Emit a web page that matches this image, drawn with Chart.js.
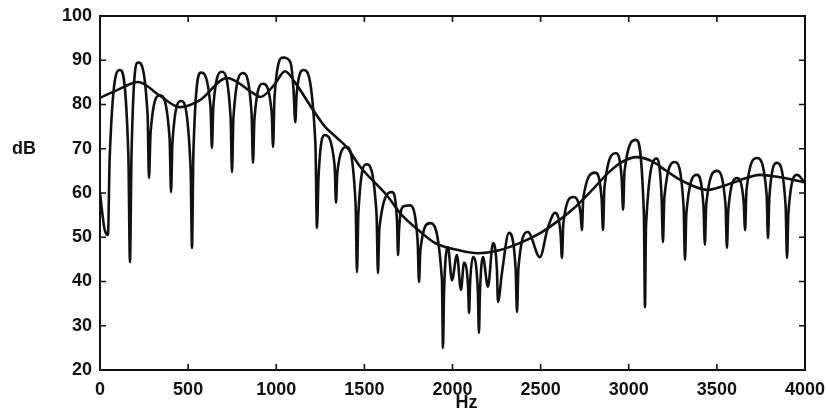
<!DOCTYPE html>
<html>
<head>
<meta charset="utf-8">
<script src="https://cdn.jsdelivr.net/npm/chart.js@4/dist/chart.umd.min.js"></script>
<style>
  html, body { margin: 0; padding: 0; background: #fff; }
  canvas { display: block; }
</style>
</head>
<body>
<canvas id="chart" width="827" height="414"></canvas>
<script>
// spectrum with comb-like notches: [Hz, dB]
const combCurve = [
  [0, 60], [25, 52], [45, 50.5], [55, 68], [113, 87.8], [161, 68.3], [170, 44.4], [179, 69.2],
  [216, 89.5], [270, 77.7], [278, 63.4], [287, 73.7], [340, 82.1], [395, 72.3], [403, 60.2], [411, 71.4],
  [460, 80.8], [514, 65.8], [522, 47.6], [530, 69.3], [573, 87.2], [627, 79.5], [635, 70.2], [643, 79.6],
  [692, 87.4], [741, 77.1], [749, 64.7], [757, 77], [811, 87.1], [860, 78], [868, 66.8], [876, 76.6],
  [925, 84.7], [974, 78.2], [982, 70.4], [990, 81.5], [1038, 90.6], [1080, 89.6], [1098, 83.4], [1108, 76],
  [1116, 82.5], [1155, 87.8], [1222, 71.4], [1231, 52.1], [1240, 63.7], [1275, 73.1], [1331, 66.3], [1339, 57.8],
  [1347, 64.8], [1398, 70.4], [1450, 57.7], [1458, 42.1], [1466, 55.4], [1512, 66.5], [1569, 55.3], [1577, 41.9],
  [1585, 52], [1657, 60.2], [1685, 53.8], [1691, 46], [1697, 51.9], [1719, 56.9], [1757, 57.2], [1802, 49.3],
  [1810, 39.9], [1818, 47.2], [1872, 53.2], [1940, 40.5], [1946, 25], [1952, 37.5], [1974, 47.8], [1997, 40.3],
  [2025, 46], [2048, 38.1], [2065, 44.2], [2088, 39.1], [2094, 32.9], [2100, 39.8], [2116, 45.5], [2144, 37.8],
  [2150, 28.4], [2156, 37.8], [2173, 45.5], [2201, 38.8], [2230, 48.7], [2252, 42.7], [2258, 35.4], [2281, 42.1],
  [2320, 51], [2358, 43], [2366, 33.1], [2374, 43], [2428, 51.2], [2496, 45.5], [2540, 52], [2582, 55.5],
  [2613, 50.9], [2621, 45.3], [2629, 53.2], [2684, 59.1], [2726, 55.7], [2734, 51.6], [2742, 58.8], [2809, 64.6],
  [2846, 58.8], [2854, 51.6], [2862, 61.2], [2928, 69], [2960, 63.2], [2968, 56.2], [2976, 64.9], [3041, 72],
  [3086, 55], [3092, 34.2], [3098, 52.7], [3160, 67.8], [3186, 59.4], [3194, 48.9], [3202, 58.9], [3262, 67],
  [3311, 57.1], [3319, 44.9], [3327, 55.5], [3387, 64.1], [3424, 57], [3432, 48.3], [3440, 57.6], [3500, 65],
  [3549, 57.3], [3557, 47.6], [3565, 56.3], [3614, 63.4], [3652, 58.1], [3660, 51.6], [3668, 60.6], [3728, 67.9],
  [3782, 59.8], [3790, 49.8], [3798, 59.2], [3841, 66.8], [3890, 57.1], [3898, 45.3], [3906, 55.6], [3955, 64.1],
  [4000, 62.3]
];

// smooth envelope: [Hz, dB]
const envelopeCurve = [
  [0, 81.5], [100, 83.3], [216, 85.1], [340, 82], [454, 79.4], [567, 81], [720, 86], [868, 82.6],
  [910, 81.7], [990, 84.5], [1050, 87.5], [1106, 85], [1205, 79], [1276, 75], [1343, 72.5], [1401, 70.3],
  [1475, 66], [1627, 59.5], [1713, 55], [1810, 51.5], [1901, 48.7], [2043, 47], [2144, 46.4], [2260, 47],
  [2394, 48.9], [2500, 51], [2582, 53.2], [2695, 56.8], [2800, 61], [2882, 64.5], [2960, 67], [3047, 68.1],
  [3130, 67.2], [3206, 65.2], [3290, 63], [3376, 61.4], [3443, 60.7], [3530, 61.5], [3631, 62.9], [3745, 64.1],
  [3850, 63.6], [4000, 62.4]
];

const xMin = 0, xMax = 4000, xStep = 500;
const yMin = 20, yMax = 100, yStep = 10;
const xTitle = 'Hz';
const yTitle = 'dB';

const ink = '#111';
const labelFont = { family: '"Liberation Sans", Arial, sans-serif', size: 18, weight: 'bold' };

// frame, inward ticks and the two axis names
const framePlugin = {
  id: 'frame',
  afterDraw(chart) {
    const { ctx, chartArea: a, scales } = chart;
    ctx.save();
    ctx.strokeStyle = ink;
    ctx.lineWidth = 2;
    ctx.strokeRect(a.left, a.top, a.right - a.left, a.bottom - a.top);
    ctx.lineWidth = 1.6;
    ctx.beginPath();
    scales.x.ticks.forEach(t => {
      const px = scales.x.getPixelForValue(t.value);
      ctx.moveTo(px, a.bottom); ctx.lineTo(px, a.bottom - 6);
      ctx.moveTo(px, a.top); ctx.lineTo(px, a.top + 6);
    });
    scales.y.ticks.forEach(t => {
      const py = scales.y.getPixelForValue(t.value);
      ctx.moveTo(a.left, py); ctx.lineTo(a.left + 6, py);
      ctx.moveTo(a.right, py); ctx.lineTo(a.right - 6, py);
    });
    ctx.stroke();

    ctx.fillStyle = ink;
    ctx.font = 'bold 18px "Liberation Sans", Arial, sans-serif';
    ctx.textAlign = 'center';
    ctx.textBaseline = 'middle';
    ctx.fillText(yTitle, 24, scales.y.getPixelForValue(70));
    ctx.fillText(xTitle, (a.left + a.right) / 2 + 14, 403);
    ctx.restore();
  }
};

new Chart(document.getElementById('chart'), {
  type: 'line',
  data: {
    datasets: [
      {
        label: 'spectrum',
        data: combCurve.map(p => ({ x: p[0], y: p[1] })),
        borderColor: ink,
        borderWidth: 2.6,
        pointRadius: 0,
        cubicInterpolationMode: 'monotone',
        fill: false
      },
      {
        label: 'envelope',
        data: envelopeCurve.map(p => ({ x: p[0], y: p[1] })),
        borderColor: ink,
        borderWidth: 2.6,
        pointRadius: 0,
        cubicInterpolationMode: 'monotone',
        fill: false
      }
    ]
  },
  options: {
    responsive: false,
    animation: false,
    events: [],
    layout: { padding: { top: 16, right: 22, left: 0, bottom: 0 } },
    plugins: { legend: { display: false }, tooltip: { enabled: false } },
    scales: {
      x: {
        type: 'linear',
        min: xMin, max: xMax,
        grid: { display: false, drawTicks: false },
        border: { display: false },
        ticks: { stepSize: xStep, color: ink, font: labelFont, padding: 9, maxRotation: 0, callback: v => String(v) },
        afterFit: s => { s.height = 44; s.paddingLeft = 0; s.paddingRight = 0; }
      },
      y: {
        min: yMin, max: yMax,
        grid: { display: false, drawTicks: false },
        border: { display: false },
        ticks: { stepSize: yStep, color: ink, font: labelFont, padding: 8, callback: v => String(v) },
        afterFit: s => { s.width = 100; s.paddingTop = 0; s.paddingBottom = 0; }
      }
    }
  },
  plugins: [framePlugin]
});
</script>
</body>
</html>
